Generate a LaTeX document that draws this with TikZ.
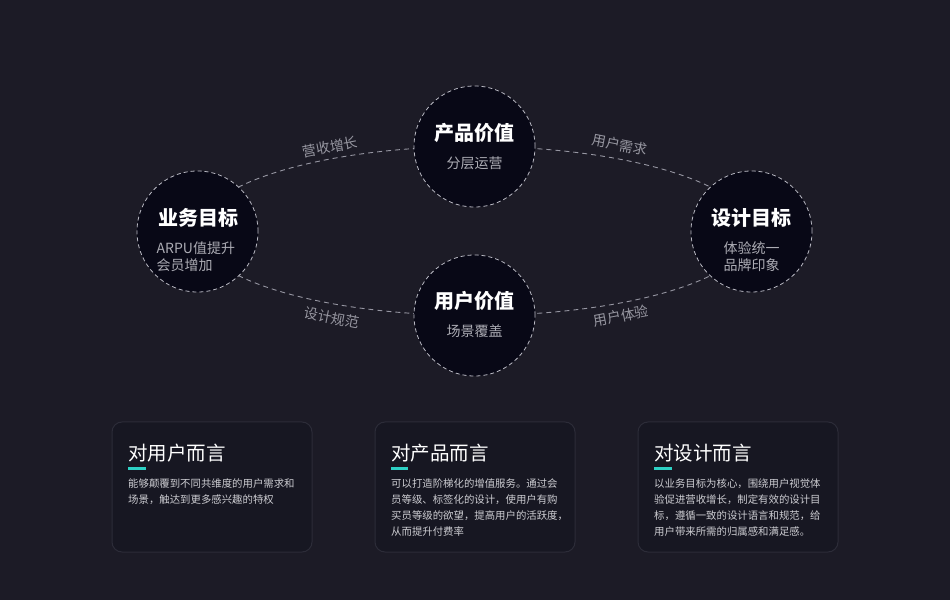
\documentclass[tikz,border=0pt]{standalone}
\usepackage{fontspec}
\setmainfont{Noto Sans CJK SC}
\pgfdeclarelayer{back}
\pgfdeclarelayer{links}
\pgfsetlayers{back,links,main}
\definecolor{bg}{RGB}{28,27,38}
\definecolor{disc}{RGB}{8,8,22}
\definecolor{cardfill}{RGB}{23,23,34}
\definecolor{cardline}{RGB}{44,44,56}
\definecolor{linkgray}{RGB}{150,150,162}
\definecolor{ringgray}{RGB}{185,185,195}
\definecolor{subgray}{RGB}{172,172,180}
\definecolor{labgray}{RGB}{150,150,160}
\definecolor{bodygray}{RGB}{205,205,210}
\definecolor{teal}{RGB}{45,208,196}
\tikzset{
  goal/.style={circle, minimum size=121pt, inner sep=0pt, fill=disc, draw=ringgray, line width=0.8pt, dash pattern=on 4pt off 3pt},
  link/.style={draw=linkgray, line width=0.9pt, dash pattern=on 5pt off 4pt},
  ttl/.style={text=white, font=\fontsize{20}{24}\selectfont\bfseries, inner sep=0pt},
  sub/.style={text=subgray, font=\fontsize{14}{17}\selectfont, inner sep=0pt},
  lab/.style={text=labgray, font=\fontsize{14}{17}\selectfont, inner sep=0pt},
  card/.style={draw=cardline, fill=cardfill, line width=1pt, rounded corners=10pt},
  cardttl/.style={text=white, font=\fontsize{19.5}{24}\selectfont, inner sep=0pt, anchor=west},
  bar/.style={draw=teal, line width=3pt},
  body/.style={text=bodygray, font=\fontsize{10.4}{16}\selectfont, inner sep=0pt, anchor=north west, align=left}
}
\begin{document}
\begin{tikzpicture}[x=1pt,y=1pt]
\begin{pgfonlayer}{back}
\fill[bg] (0,0) rectangle (950,600);
\end{pgfonlayer}
\useasboundingbox (0,0) rectangle (950,600);

% circles
\node[goal] (biz) at (197.5,368.5) {};
\node[goal] (prod) at (474.5,453.5) {};
\node[goal] (user) at (474.5,284.5) {};
\node[goal] (design) at (751.5,368.5) {};

% connectors (elliptic arcs) behind the circles
\begin{pgfonlayer}{links}
\path[link] (biz.center) .. controls +(0,46.7) and +(-153,0) .. (prod.center);
\path[link] (prod.center) .. controls +(153,0) and +(0,46.7) .. (design.center);
\path[link] (biz.center) .. controls +(0,-46.7) and +(-153,0) .. (user.center);
\path[link] (user.center) .. controls +(153,0) and +(0,-46.7) .. (design.center);
\end{pgfonlayer}

% circle texts
\node[ttl] (bizt) at (198,382) {业务目标};
\node[sub, align=left, anchor=west] (bizs) at (156.5,343.5) {ARPU值提升\\会员增加};
\node[ttl] (prodt) at (474.5,467) {产品价值};
\node[sub] (prods) at (474.5,437) {分层运营};
\node[ttl] (usert) at (474.5,299) {用户价值};
\node[sub] (users) at (474.5,269) {场景覆盖};
\node[ttl] (designt) at (751.5,382) {设计目标};
\node[sub, align=center] (designs) at (751.5,343.5) {体验统一\\品牌印象};

% connector labels
\node[lab, rotate=11] (l1) at (330,453) {营收增长};
\node[lab, rotate=-11] (l2) at (620,455) {用户需求};
\node[lab, rotate=-11] (l3) at (332,282) {设计规范};
\node[lab, rotate=11] (l4) at (621,284) {用户体验};

% cards
\draw[card] (112,48) rectangle (312,178);
\draw[card] (375,48) rectangle (575,178);
\draw[card] (638,48) rectangle (838,178);

\node[cardttl] (c1t) at (128,147) {对用户而言};
\node[cardttl] (c2t) at (391,147) {对产品而言};
\node[cardttl] (c3t) at (654,147) {对设计而言};

\draw[bar] (128,132) -- (146,132);
\draw[bar] (391,132) -- (408,132);
\draw[bar] (654,132) -- (672,132);

\node[body] (c1b) at (128,121) {能够颠覆到不同共维度的用户需求和\\场景，触达到更多感兴趣的特权};
\node[body] (c2b) at (391,121) {可以打造阶梯化的增值服务。通过会\\员等级、标签化的设计，使用户有购\\买员等级的欲望，提高用户的活跃度，\\从而提升付费率};
\node[body] (c3b) at (654,121) {以业务目标为核心，围绕用户视觉体\\验促进营收增长，制定有效的设计目\\标，遵循一致的设计语言和规范，给\\用户带来所需的归属感和满足感。};
\end{tikzpicture}
\end{document}
